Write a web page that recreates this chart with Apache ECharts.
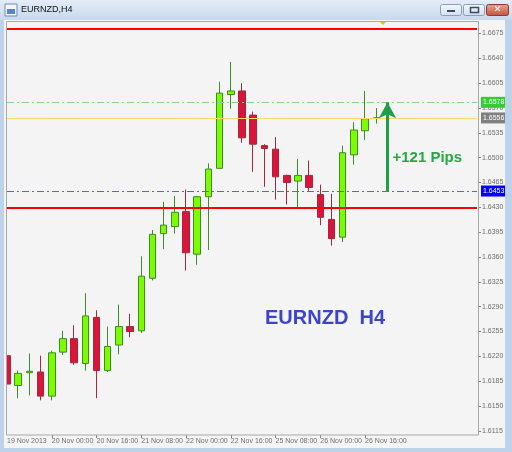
<!DOCTYPE html>
<html>
<head>
<meta charset="utf-8">
<script src="https://cdn.jsdelivr.net/npm/echarts@6/dist/echarts.min.js"></script>
<style>html,body{margin:0;padding:0;background:#F4F4F4}#c{width:512px;height:452px}</style>
</head>
<body>
<div id="c"></div>
<script>
// Bar times (H4). Trailing entries are empty future bars (chart shift space).
const categories = [
  '19 Nov 08:00','19 Nov 12:00','19 Nov 16:00','19 Nov 20:00',
  '20 Nov 00:00','20 Nov 04:00','20 Nov 08:00','20 Nov 12:00',
  '20 Nov 16:00','20 Nov 20:00','21 Nov 00:00','21 Nov 04:00',
  '21 Nov 08:00','21 Nov 12:00','21 Nov 16:00','21 Nov 20:00',
  '22 Nov 00:00','22 Nov 04:00','22 Nov 08:00','22 Nov 12:00',
  '22 Nov 16:00','22 Nov 20:00','25 Nov 00:00','25 Nov 04:00',
  '25 Nov 08:00','25 Nov 12:00','25 Nov 16:00','25 Nov 20:00',
  '26 Nov 00:00','26 Nov 04:00','26 Nov 08:00','26 Nov 12:00',
  '26 Nov 16:00','26 Nov 20:00',
  '27 Nov 00:00','27 Nov 04:00','27 Nov 08:00','27 Nov 12:00',
  '27 Nov 16:00','27 Nov 20:00','28 Nov 00:00','28 Nov 04:00','28 Nov 08:00'
];
const firstLabel = '19 Nov 2013';
const opens  = [1.6221,1.6179,1.6197,1.6198,1.6164,1.6226,1.6245,1.6210,1.6275,1.6200,1.6236,1.6262,1.6256,1.6330,1.6393,1.6403,1.6424,1.6364,1.6445,1.6485,1.6589,1.6594,1.6560,1.6517,1.6512,1.6475,1.6467,1.6475,1.6448,1.6413,1.6388,1.6504,1.6538,1.6556];
const highs  = [1.6230,1.6200,1.6224,1.6221,1.6228,1.6256,1.6264,1.6309,1.6285,1.6262,1.6293,1.6280,1.6361,1.6398,1.6438,1.6446,1.6455,1.6446,1.6492,1.6607,1.6635,1.6605,1.6565,1.6519,1.6529,1.6476,1.6498,1.6496,1.6462,1.6449,1.6517,1.6550,1.6594,1.6570];
const lows   = [1.6161,1.6161,1.6165,1.6158,1.6158,1.6222,1.6208,1.6200,1.6161,1.6198,1.6223,1.6247,1.6253,1.6327,1.6371,1.6393,1.6341,1.6349,1.6370,1.6484,1.6569,1.6521,1.6480,1.6459,1.6441,1.6434,1.6430,1.6453,1.6405,1.6376,1.6381,1.6490,1.6525,1.6548];
const closes = [1.6181,1.6196,1.6199,1.6164,1.6225,1.6245,1.6211,1.6277,1.6200,1.6234,1.6262,1.6255,1.6333,1.6392,1.6405,1.6423,1.6366,1.6445,1.6484,1.6591,1.6594,1.6528,1.6519,1.6513,1.6473,1.6465,1.6475,1.6458,1.6416,1.6386,1.6507,1.6539,1.6555,1.6556];

const yTicks = [1.6115,1.6150,1.6185,1.6220,1.6255,1.6290,1.6325,1.6360,1.6395,1.6430,1.6465,1.6500,1.6535,1.6570,1.6605,1.6640,1.6675];
const yMin = 1.61092, yMax = 1.66912;

const resistanceLevel = 1.6682;
const supportLevel = 1.6430;
const highLevel = 1.6578;
const bidLevel = 1.6556;
const lowLevel = 1.6453;
const arrowBar = 34;
const pipsText = '+121 Pips';
const pipsLevel = 1.6500;
const chartTitle = 'EURNZD  H4';
const windowTitle = 'EURNZD,H4';

const candleData = opens.map((o, i) => [o, closes[i], lows[i], highs[i]]);

const chart = echarts.init(document.getElementById('c'), null, {renderer: 'canvas'});
const FONT = 'Liberation Sans';
const axisGray = '#6e6e6e';

function boxLabel(bg) {
  return {
    show: true, position: 'end', distance: 4,
    formatter: p => Number(p.value).toFixed(4),
    backgroundColor: bg, color: '#ffffff', fontFamily: FONT, fontSize: 7,
    padding: [2, 2, 1, 2], lineHeight: 8
  };
}

chart.setOption({
  animation: false,
  backgroundColor: '#F4F4F4',
  grid: {left: 7, top: 22, right: 35, bottom: 17, containLabel: false},
  xAxis: {
    type: 'category',
    data: categories,
    boundaryGap: false,
    axisLine: {show: false},
    axisTick: {
      show: true, length: 3, lineStyle: {color: '#808080'},
      interval: (i) => i % 4 === 0 && i > 0 && i < opens.length
    },
    axisLabel: {
      show: true, align: 'left', margin: 3, color: axisGray, fontFamily: FONT, fontSize: 7,
      interval: (i) => i % 4 === 0 && i < opens.length,
      formatter: (v, i) => i === 0 ? firstLabel : v
    },
    splitLine: {show: false}
  },
  yAxis: {
    type: 'value',
    position: 'right',
    offset: 2,
    min: yMin, max: yMax,
    scale: true,
    axisLine: {show: false},
    axisTick: {show: true, length: 2, lineStyle: {color: '#808080'}, customValues: yTicks},
    axisLabel: {
      show: true, margin: 3, color: axisGray, fontFamily: FONT, fontSize: 7,
      customValues: yTicks, formatter: v => Number(v).toFixed(4)
    },
    splitLine: {show: false}
  },
  series: [{
    type: 'candlestick',
    data: candleData,
    barWidth: 7,
    clip: true,
    itemStyle: {
      color: '#7CFC00', color0: '#DC143C',
      borderColor: '#3C8C2A', borderColor0: '#9E2A3A', borderWidth: 1
    },
    markLine: {
      silent: true, symbol: 'none', animation: false, precision: 4,
      data: [
        {yAxis: resistanceLevel, lineStyle: {color: '#FF0000', width: 2, type: 'solid'}, label: {show: false}},
        {yAxis: supportLevel, lineStyle: {color: '#FF0000', width: 2, type: 'solid'}, label: {show: false}},
        {yAxis: bidLevel, lineStyle: {color: '#FFD966', width: 1, type: 'solid'}, label: boxLabel('#808080')},
        {yAxis: highLevel, lineStyle: {color: '#86D486', width: 1, type: [7, 3, 2, 3]}, label: boxLabel('#33CC33')},
        {yAxis: lowLevel, lineStyle: {color: '#5C5CEE', width: 1, type: [7, 3, 2, 3]}, label: boxLabel('#0000FF')},
        [
          {coord: [arrowBar, lowLevel], symbol: 'none'},
          {coord: [arrowBar, highLevel], symbol: 'arrow', symbolSize: [13, 16],
           lineStyle: {color: '#1FA048', width: 3, type: 'solid'}, label: {show: false}}
        ]
      ]
    },
    markPoint: {
      silent: true, animation: false,
      data: [{
        coord: [arrowBar, pipsLevel], symbol: 'circle', symbolSize: 0,
        itemStyle: {color: 'rgba(0,0,0,0)'},
        label: {show: true, position: 'right', distance: 5, formatter: pipsText,
          color: '#27A844', fontFamily: FONT, fontWeight: 'bold', fontSize: 15}
      }]
    }
  }],
  graphic: [
    // cover left overflow of first candle (plot clipping)
    {type: 'rect', shape: {x: 0, y: 20, width: 6.5, height: 432}, z: 9, style: {fill: '#F4F4F4'}},
    // window title bar
    {type: 'rect', shape: {x: 0, y: 0, width: 512, height: 20}, z: 10,
     style: {fill: new echarts.graphic.LinearGradient(0, 0, 0, 1, [{offset: 0, color: '#E4EDF8'}, {offset: 1, color: '#C8D8EC'}])}},
    {type: 'rect', shape: {x: 0, y: 20, width: 4, height: 432}, z: 10, style: {fill: '#BED2EA'}},
    {type: 'rect', shape: {x: 505, y: 20, width: 7, height: 432}, z: 10, style: {fill: '#BED2EA'}},
    {type: 'rect', shape: {x: 0, y: 448, width: 512, height: 4}, z: 10, style: {fill: '#BED2EA'}},
    {type: 'rect', shape: {x: 5, y: 4, width: 12, height: 12}, z: 11, style: {fill: '#F2F6FC', stroke: '#6D8DB5', lineWidth: 1}},
    {type: 'rect', shape: {x: 7, y: 9, width: 8, height: 5}, z: 12, style: {fill: '#5B86C4'}},
    {type: 'text', x: 21, y: 10, z: 11, style: {text: windowTitle, fill: '#111', font: '9px ' + FONT, verticalAlign: 'middle'}},
    {type: 'rect', shape: {x: 440.5, y: 4.5, width: 21, height: 11, r: 2}, z: 11,
     style: {fill: new echarts.graphic.LinearGradient(0, 0, 0, 1, [{offset: 0, color: '#F5F8FC'}, {offset: 1, color: '#D2DEEE'}]), stroke: '#8A9FBB'}},
    {type: 'rect', shape: {x: 447, y: 10, width: 8, height: 2}, z: 12, style: {fill: '#3B4A62'}},
    {type: 'rect', shape: {x: 463.5, y: 4.5, width: 21, height: 11, r: 2}, z: 11,
     style: {fill: new echarts.graphic.LinearGradient(0, 0, 0, 1, [{offset: 0, color: '#F5F8FC'}, {offset: 1, color: '#D2DEEE'}]), stroke: '#8A9FBB'}},
    {type: 'rect', shape: {x: 470.5, y: 7.5, width: 8, height: 5}, z: 12, style: {fill: 'none', stroke: '#3B4A62', lineWidth: 1.5}},
    {type: 'rect', shape: {x: 486.5, y: 4.5, width: 22, height: 11, r: 2}, z: 11,
     style: {fill: new echarts.graphic.LinearGradient(0, 0, 0, 1, [{offset: 0, color: '#E8A796'}, {offset: 1, color: '#C4503B'}]), stroke: '#8C3B2E'}},
    {type: 'text', x: 497.5, y: 10, z: 12, style: {text: '✕', fill: '#fff', font: 'bold 9px DejaVu Sans', align: 'center', verticalAlign: 'middle'}},
    // plot frame
    {type: 'rect', shape: {x: 6.5, y: 21.5, width: 472, height: 413.5}, z: 10, silent: true,
     style: {fill: 'none', stroke: '#A8A8A8', lineWidth: 1}},
    {type: 'polygon', shape: {points: [[380, 22], [386, 22], [383, 25]]}, z: 11, style: {fill: '#E6C200'}},
    // chart label
    {type: 'text', x: 265, y: 318, z: 11,
     style: {text: chartTitle, fill: '#3A45CC', font: 'bold 20px ' + FONT, verticalAlign: 'middle'}}
  ]
});
</script>
</body>
</html>
